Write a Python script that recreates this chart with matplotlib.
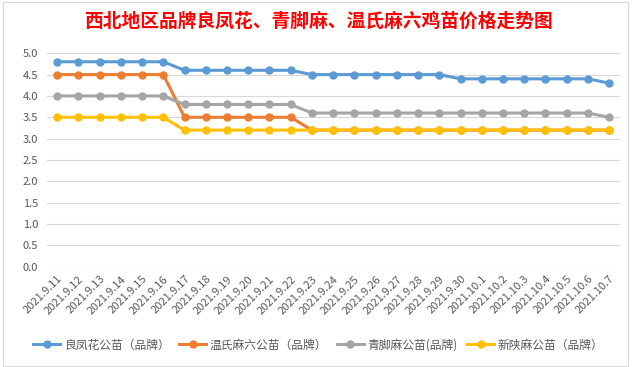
import matplotlib
matplotlib.use("Agg")
import matplotlib.pyplot as plt
from matplotlib.patches import Rectangle

plt.rcParams['font.family'] = ['Noto Sans CJK SC', 'DejaVu Sans']

dates = ["2021.9.11", "2021.9.12", "2021.9.13", "2021.9.14", "2021.9.15", "2021.9.16",
         "2021.9.17", "2021.9.18", "2021.9.19", "2021.9.20", "2021.9.21", "2021.9.22",
         "2021.9.23", "2021.9.24", "2021.9.25", "2021.9.26", "2021.9.27", "2021.9.28",
         "2021.9.29", "2021.9.30", "2021.10.1", "2021.10.2", "2021.10.3", "2021.10.4",
         "2021.10.5", "2021.10.6", "2021.10.7"]

liangfenghua = [4.8] * 6 + [4.6] * 6 + [4.5] * 7 + [4.4] * 7 + [4.3]
wenshi = [4.5] * 6 + [3.5] * 6 + [3.2] * 15
qingjiao = [4.0] * 6 + [3.8] * 6 + [3.6] * 14 + [3.5]
xinshan = [3.5] * 6 + [3.2] * 21

series = [
    ("良凤花公苗（品牌）", liangfenghua, "#5B9BD5"),
    ("温氏麻六公苗（品牌）", wenshi, "#ED7D31"),
    ("青脚麻公苗(品牌)", qingjiao, "#A5A5A5"),
    ("新陕麻公苗（品牌）", xinshan, "#FFC000"),
]

fig = plt.figure(figsize=(6.37, 3.67), dpi=100)
ax = fig.add_axes([0.073, 0.273, 0.900, 0.582])

x = list(range(len(dates)))
for name, vals, col in series:
    ax.plot(x, vals, color=col, linewidth=2.2, marker="o", markersize=5, label=name)

ax.set_xlim(-0.5, len(dates) - 0.5)
ax.set_ylim(0, 5.0)
ax.set_yticks([i * 0.5 for i in range(11)])
ax.set_yticklabels([f"{i * 0.5:.1f}" for i in range(11)])
ax.set_xticks(x)
ax.set_xticklabels(dates, rotation=45, ha="right", va="top", rotation_mode="anchor")
ax.tick_params(axis="both", length=0, labelsize=8, colors="#595959")
ax.tick_params(axis="x", pad=5)
ax.tick_params(axis="y", pad=6)
ax.grid(axis="y", color="#D9D9D9", linewidth=0.8)
ax.set_axisbelow(True)
for s in ax.spines.values():
    s.set_visible(False)

fig.text(0.5, 0.942, "西北地区品牌良凤花、青脚麻、温氏麻六鸡苗价格走势图", ha="center", va="center",
         color="#FF0000", fontsize=13.5, fontweight="bold")

fig.legend(loc="center", bbox_to_anchor=(0.5, 0.06), ncol=4, frameon=False, fontsize=8.5,
           handlelength=2.3, handletextpad=0.3, columnspacing=0.8, labelcolor="#595959")

fig.patches.append(Rectangle((0.004, 0.004), 0.982, 0.99, transform=fig.transFigure,
                             fill=False, edgecolor="#D9D9D9", linewidth=0.8))

fig.savefig("out.png", dpi=100)
